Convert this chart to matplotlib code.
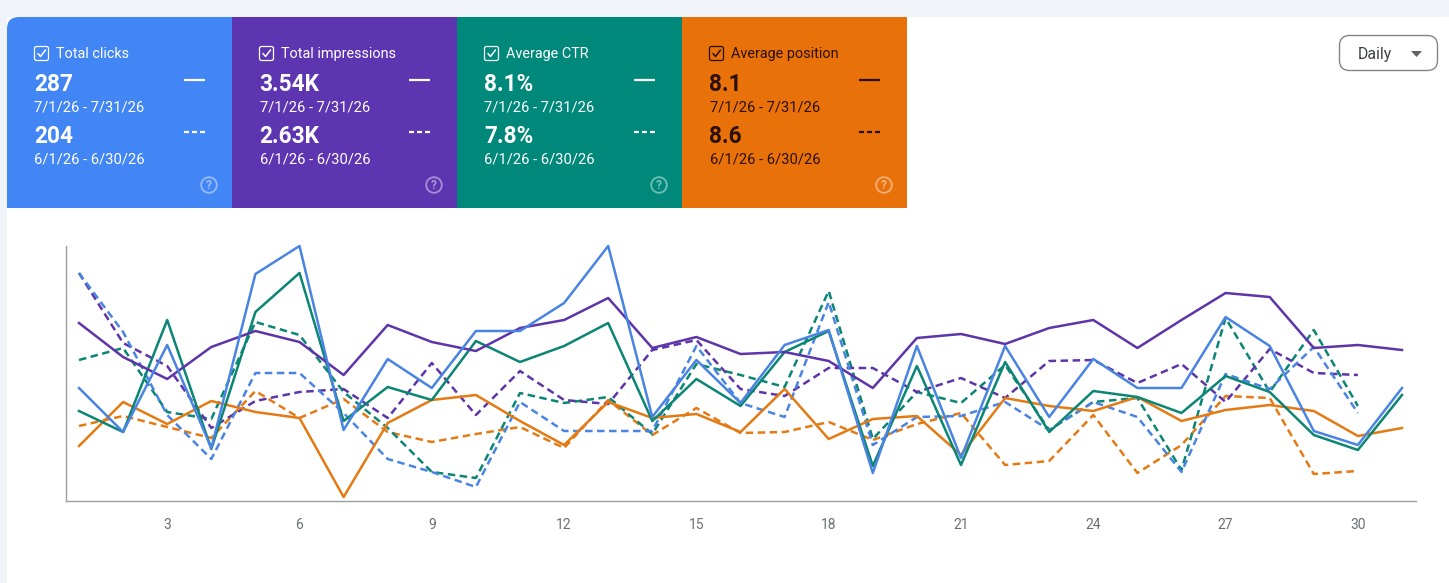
import matplotlib
matplotlib.use("Agg")
import matplotlib.pyplot as plt
from matplotlib.patches import Rectangle, FancyBboxPatch, Circle, PathPatch
from matplotlib.path import Path

plt.rcParams['font.family'] = ['Roboto', 'DejaVu Sans']

days = list(range(1, 32))
prev_days = list(range(1, 31))
tick_days = [3, 6, 9, 12, 15, 18, 21, 24, 27, 30]

clicks = [113,69,156,53,227,255,71,142,113,170,170,198,255,84,141,98,156,171,28,155,43,155,84,142,113,113,184,155,70,56,113]
ctr = [90,69,181,52,189,228,80,114,101,160,139,155,178,80,122,95,149,170,35,135,36,139,69,110,104,88,125,109,66,51,106]
impressions = [178,144,122,154,170,159,126,176,159,150,173,181,203,153,164,147,149,140,113,163,167,157,173,181,153,181,208,204,153,156,151]
position = [55,99,77,100,89,83,4,78,101,106,80,56,99,83,87,69,112,62,82,85,46,103,95,90,104,80,91,96,90,65,73]

clicks_prev = [228,169,86,42,128,128,88,42,29,14,99,70,70,70,155,98,84,199,56,84,85,99,71,99,84,29,127,112,154,88]
ctr_prev = [141,153,89,82,179,166,109,73,29,23,108,98,104,67,137,126,114,210,62,109,98,136,71,99,103,31,183,109,171,95]
impressions_prev = [228,158,135,73,100,109,112,83,138,86,130,101,97,151,161,112,105,133,133,109,123,103,140,141,118,137,99,152,128,126]
position_prev = [75,85,74,63,110,83,102,69,59,67,74,53,101,66,93,68,69,79,61,77,88,36,40,86,28,56,105,103,27,30]

card_titles = ["Total clicks", "Total impressions", "Average CTR", "Average position"]
card_current = ["287", "3.54K", "8.1%", "8.1"]
card_previous = ["204", "2.63K", "7.8%", "8.6"]
current_range = "7/1/26 - 7/31/26"
previous_range = "6/1/26 - 6/30/26"
granularity = "Daily"

BLUE, PURPLE, TEAL, ORANGE = "#4285f4", "#5e35b1", "#00897b", "#e8710a"
LINE_BLUE, LINE_PURPLE, LINE_TEAL, LINE_ORANGE = "#4a84e2", "#5e35a8", "#0b8574", "#e47a14"

W, H = 1449, 583
fig = plt.figure(figsize=(W / 100, H / 100), dpi=100, facecolor="white")

# page layer in pixel coordinates
page = fig.add_axes([0, 0, 1, 1], zorder=0)
page.set_xlim(0, W)
page.set_ylim(H, 0)
page.axis("off")
page.add_patch(Rectangle((0, 0), W, H, fc="#f0f4f9", ec="none"))
page.add_patch(Rectangle((7, 17), W - 7, H - 17, fc="white", ec="none"))

# cards
card_w = 225
card_x = [7, 232, 457, 682]
card_colors = [BLUE, PURPLE, TEAL, ORANGE]
ink = ["white", "white", "white", "#2a1000"]
for i, (x0, col, c) in enumerate(zip(card_x, card_colors, ink)):
    if i == 0:
        r = 12
        verts = [(x0, 208), (x0, 17 + r), (x0, 17), (x0 + r, 17), (x0 + card_w, 17),
                 (x0 + card_w, 208), (x0, 208)]
        codes = [Path.MOVETO, Path.LINETO, Path.CURVE3, Path.CURVE3, Path.LINETO, Path.LINETO, Path.CLOSEPOLY]
        page.add_patch(PathPatch(Path(verts, codes), fc=col, ec="none"))
    else:
        page.add_patch(Rectangle((x0, 17), card_w, 191, fc=col, ec="none"))
    page.add_patch(FancyBboxPatch((x0 + 27.5, 46.5), 14, 14, boxstyle="round,pad=0,rounding_size=2",
                                  fc="none", ec=c, lw=0.9))
    page.plot([x0 + 31, x0 + 33.5, x0 + 38.5], [53.5, 56.5, 50], color=c, lw=1.1, solid_capstyle="round")
    page.text(x0 + 49, 53.7, card_titles[i], color=c, fontsize=10.4, va="center", ha="left")
    page.text(x0 + 27, 84.5, card_current[i], color=c, fontsize=16.3, fontweight="bold", va="center", ha="left")
    page.text(x0 + 27.5, 107, current_range, color=c, fontsize=10.6, va="center", ha="left")
    page.text(x0 + 27, 136.5, card_previous[i], color=c, fontsize=16.3, fontweight="bold", va="center", ha="left")
    page.text(x0 + 27.5, 159, previous_range, color=c, fontsize=10.6, va="center", ha="left")
    page.plot([x0 + 177, x0 + 198], [80, 80], color=c, lw=1.6, solid_capstyle="butt")
    for dx in (177, 185, 193):
        page.plot([x0 + dx, x0 + dx + 5], [132, 132], color=c, lw=1.6, solid_capstyle="butt")
    q = "white"
    page.add_patch(Circle((x0 + 202, 185), 7.8, fc="none", ec=q, lw=1.3, alpha=0.45))
    page.text(x0 + 202, 185.5, "?", color=q, alpha=0.5, fontsize=8.5, fontweight="bold", ha="center", va="center")

# granularity button
page.add_patch(FancyBboxPatch((1339.5, 35.5), 98, 35, boxstyle="round,pad=0,rounding_size=10",
                              fc="white", ec="#80868b", lw=1.0))
page.text(1358, 54, granularity, color="#3c4043", fontsize=11.4, va="center", ha="left")
page.fill([1411, 1422, 1416.5], [51, 51, 57], color="#5f6368", lw=0)

# chart
ax = fig.add_axes([65.5 / W, 1 - 501 / H, (1415.5 - 65.5) / W, (501 - 246) / H], zorder=1)
ax.patch.set_alpha(0)
ax.set_xlim(1 - 13.5 / 44.1, 1 + 1336.5 / 44.1)
ax.set_ylim(0, 255)
for s in ("top", "right"):
    ax.spines[s].set_visible(False)
for s in ("left", "bottom"):
    ax.spines[s].set_color("#9e9e9e")
    ax.spines[s].set_linewidth(1.0)
ax.set_yticks([])
ax.set_xticks(tick_days)
ax.set_xticklabels([str(d) for d in tick_days])
ax.tick_params(axis="x", length=0, pad=12, labelsize=10, labelcolor="#6b6f73")

dash = (0, (3.0, 1.8))
lw = 1.8
for vals, col in ((position_prev, LINE_ORANGE), (ctr_prev, LINE_TEAL),
                  (impressions_prev, LINE_PURPLE), (clicks_prev, LINE_BLUE)):
    ax.plot(prev_days, vals, color=col, lw=lw, linestyle=dash, clip_on=False)
for vals, col in ((position, LINE_ORANGE), (ctr, LINE_TEAL),
                  (impressions, LINE_PURPLE), (clicks, LINE_BLUE)):
    ax.plot(days, vals, color=col, lw=lw, clip_on=False)

fig.savefig("out.png", dpi=100)
